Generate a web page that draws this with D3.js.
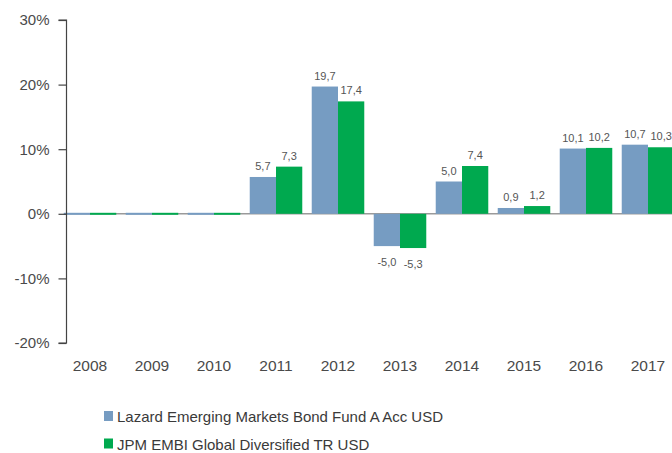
<!DOCTYPE html>
<html>
<head>
<meta charset="utf-8">
<script src="https://cdn.jsdelivr.net/npm/d3@7/dist/d3.min.js"></script>
<style>
  html, body { margin: 0; padding: 0; background: #fff; }
  svg { display: block; font-family: "Liberation Sans", Arial, sans-serif; }
</style>
</head>
<body>
<svg id="chart" width="672" height="453"></svg>
<script>
const years = ["2008","2009","2010","2011","2012","2013","2014","2015","2016","2017"];
const seriesNames = ["Lazard Emerging Markets Bond Fund A Acc USD", "JPM EMBI Global Diversified TR USD"];
const lazard = [0, 0, 0, 5.7, 19.7, -5.0, 5.0, 0.9, 10.1, 10.7];
const jpm = [0, 0, 0, 7.3, 17.4, -5.3, 7.4, 1.2, 10.2, 10.3];
const lazardLabels = [null, null, null, "5,7", "19,7", "-5,0", "5,0", "0,9", "10,1", "10,7"];
const jpmLabels = [null, null, null, "7,3", "17,4", "-5,3", "7,4", "1,2", "10,2", "10,3"];
const yTicks = [-20, -10, 0, 10, 20, 30];
const colors = ["#769cc2", "#00a94f"];

const svg = d3.select("#chart");
const y = d3.scaleLinear().domain([-20, 30]).range([343, 20]);
const x = d3.scaleBand().domain(years).range([59, 679]).padding(0);
const x1 = d3.scaleBand().domain([0, 1]).range([0, x.bandwidth()]).paddingInner(0).paddingOuter(0.18);
const axisX = 66.5;

// zero line
svg.append("line")
  .attr("x1", axisX).attr("x2", 672)
  .attr("y1", y(0)).attr("y2", y(0))
  .attr("stroke", "#9a9a9a").attr("stroke-width", 1.5);

const data = years.map((yr, i) => ({ yr, vals: [lazard[i], jpm[i]], labels: [lazardLabels[i], jpmLabels[i]] }));

const g = svg.append("g");
data.forEach(d => {
  d.vals.forEach((v, s) => {
    const x0 = x(d.yr) + x1(s);
    const w = x1.bandwidth();
    let top = Math.min(y(v), y(0));
    let h = Math.abs(y(v) - y(0));
    if (h < 2) { top = y(0) - 1; h = 2; }
    g.append("rect")
      .attr("x", x0).attr("y", top)
      .attr("width", w).attr("height", h)
      .attr("fill", colors[s]);
    if (d.labels[s]) {
      g.append("text")
        .attr("x", x0 + w / 2)
        .attr("y", v >= 0 ? y(v) - 7 : y(v) + 20)
        .attr("text-anchor", "middle")
        .attr("font-size", 11)
        .attr("fill", "#555")
        .text(d.labels[s]);
    }
  });
});

// y axis
const yAxis = d3.axisLeft(y).tickValues(yTicks).tickSize(8).tickPadding(9)
  .tickFormat(d => d + "%");
const ya = svg.append("g").attr("transform", `translate(${axisX},0)`).call(yAxis);
ya.select(".domain").attr("stroke", "#444").attr("stroke-width", 1.2)
  .attr("d", `M-8,${y(30)}H0V${y(-20)}H-8`);
ya.selectAll(".tick line").attr("stroke", "#444").attr("stroke-width", 1.2);
ya.selectAll(".tick text").attr("font-size", 15).attr("fill", "#4a4a4a")
  .attr("font-family", "'Liberation Sans', Arial, sans-serif");

// x labels
svg.append("g").selectAll("text").data(years).join("text")
  .attr("x", d => x(d) + x.bandwidth() / 2)
  .attr("y", 371)
  .attr("text-anchor", "middle")
  .attr("font-size", 15.5)
  .attr("fill", "#4a4a4a")
  .text(d => d);

// legend
const leg = svg.append("g");
seriesNames.forEach((name, i) => {
  const ly = 411 + i * 27.5;
  leg.append("rect").attr("x", 104).attr("y", ly).attr("width", 9).attr("height", 10).attr("fill", colors[i]);
  leg.append("text").attr("x", 117).attr("y", ly + 11).attr("font-size", 15).attr("fill", "#3a3a3a").text(name);
});
</script>
</body>
</html>
